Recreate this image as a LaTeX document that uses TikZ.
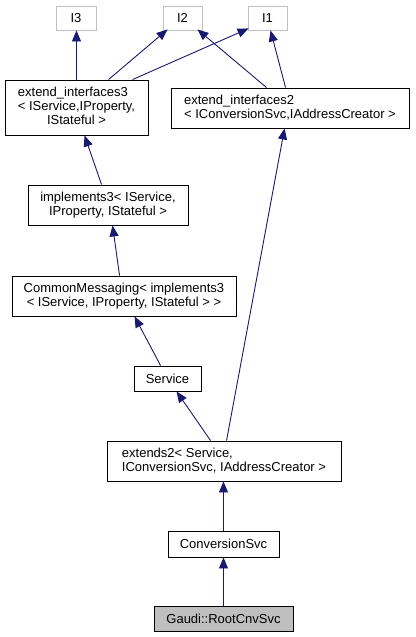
\documentclass[tikz,border=0pt]{standalone}
\usepackage{fontspec}
\setmainfont{Liberation Sans}
\usetikzlibrary{arrows.meta}
\definecolor{edgeblue}{HTML}{191970}
\definecolor{lgray}{HTML}{BFBFBF}
\begin{document}
\begin{tikzpicture}[x=1pt,y=-1pt,
  box/.style={draw=black, line width=0.9pt, inner sep=0pt, fill=white,
    font=\fontsize{13}{14}\selectfont},
  ibox/.style={box, draw=lgray},
  cbox/.style={box, fill=lgray},
  edge/.style={draw=edgeblue, line width=0.9pt, -{Triangle[length=11pt,width=9pt]}}]
\useasboundingbox (0,0) rectangle (415,637);
% nodes
\node[ibox, minimum width=40pt, minimum height=24pt] (I3) at (76,18) {I3};
\node[ibox, minimum width=39pt, minimum height=24pt] (I2) at (182.5,18) {I2};
\node[ibox, minimum width=39pt, minimum height=24pt] (I1) at (267.5,18) {I1};
\node[box, minimum width=143pt, minimum height=55pt] (ext3) at (76.5,107.5)
  {\begin{tabular}{@{}l@{}}extend\_interfaces3\\< IService,IProperty,\\\multicolumn{1}{@{}c@{}}{IStateful >}\end{tabular}};
\node[box, minimum width=238pt, minimum height=40pt, align=left] (ext2) at (290,108)
  {extend\_interfaces2\\< IConversionSvc,IAddressCreator >};
\node[box, minimum width=160pt, minimum height=40pt, align=center] (impl3) at (108,205)
  {implements3< IService,\\ IProperty, IStateful >};
\node[box, minimum width=224pt, minimum height=40pt, align=center] (cm) at (124,296)
  {CommonMessaging< implements3\\< IService, IProperty, IStateful > >};
\node[box, minimum width=67pt, minimum height=25pt] (svc) at (167.5,378.5) {Service};
\node[box, minimum width=234pt, minimum height=40pt, align=left] (ext2s) at (224,461)
  {extends2< Service,\\ IConversionSvc, IAddressCreator >};
\node[box, minimum width=111pt, minimum height=26pt] (conv) at (223.5,544) {ConversionSvc};
\node[cbox, minimum width=139pt, minimum height=25pt] (root) at (223.5,618.5) {Gaudi::RootCnvSvc};
% edges
\draw[edge] (ext3.north) -- (ext3.north |- I3.south);
\draw[edge] ([xshift=104pt]ext3.north west) -- ([xshift=5pt,yshift=1pt]I2.south west);
\draw[edge] ([xshift=128pt]ext3.north west) -- ([xshift=1pt,yshift=2pt]I1.south west);
\draw[edge] ([xshift=96pt]ext2.north west) -- ([xshift=-5pt,yshift=1pt]I2.south east);
\draw[edge] ([xshift=115pt]ext2.north west) -- ([xshift=23pt]I1.south west);
\draw[edge] ([xshift=74pt]impl3.north west) -- ([xshift=80pt]ext3.south west);
\draw[edge] ([xshift=120pt]ext2s.north west) -- ([xshift=114pt]ext2.south west);
\draw[edge] ([xshift=108pt]cm.north west) -- ([xshift=85pt]impl3.south west);
\draw[edge] ([xshift=27pt]svc.north west) -- ([xshift=123pt]cm.south west);
\draw[edge] ([xshift=104pt]ext2s.north west) -- ([xshift=43pt]svc.south west);
\draw[edge] (conv.north) -- (conv.north |- ext2s.south);
\draw[edge] (root.north) -- (root.north |- conv.south);
\end{tikzpicture}
\end{document}
